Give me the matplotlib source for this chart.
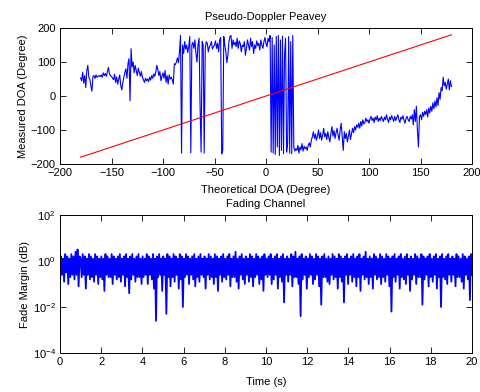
import numpy as np
import matplotlib
matplotlib.use("Agg")
import matplotlib.pyplot as plt

plt.rcParams['font.family'] = ['Liberation Sans', 'DejaVu Sans']
plt.rcParams['font.size'] = 8
plt.rcParams['mathtext.fontset'] = 'custom'
plt.rcParams['mathtext.rm'] = 'Liberation Sans'
plt.rcParams['mathtext.it'] = 'Liberation Sans'

# ---------------- Data: Pseudo-Doppler DOA ----------------
theoretical_doa = list(range(-180, 181))
measured_doa = [
    53, 45, 70, 38, 60, 25, 75, 90, 55, 48,
    30, 14, 58, 60, 52, 62, 55, 58, 60, 57,
    62, 55, 68, 60, 66, 58, 72, 84, 65, 60,
    58, 52, 48, 64, 40, 56, 35, 50, 62, 30,
    18, 40, 55, 70, 80, 52, 95, 110, -14, 139,
    85, 100, 68, 90, 75, 60, 82, 70, 58, 72,
    55, 48, 40, 52, 45, 50, 42, 55, 47, 60,
    52, 65, 58, 70, 90, 78, 60, 72, 45, 58,
    68, 52, 75, 40, 60, 35, 62, 50, 55, 48,
    35, 95, 92, 100, 112, 98, 130, 178, -168, 150,
    125, 160, 138, 150, 128, 145, 175, -167, 150, 158,
    140, 165, 125, 100, 150, 170, -30, -165, 160, 150,
    -168, 140, 160, 155, 130, 145, 150, 160, 138, 145,
    150, 162, 140, 155, 130, 165, 172, -170, -160, 175,
    150, 130, 98, 120, 160, 175, 178, 140, 165, 150,
    158, 145, 170, 140, 162, 155, 130, 150, 145, 160,
    120, 140, 165, 150, 135, 170, 145, 160, 125, 150,
    140, 162, 148, 155, 135, 165, 150, 140, 160, 172,
    155, 145, 170, 160, 178, -165, 172, -168, 150, -172,
    175, -150, 178, -175, 165, -160, 176, -170, 120, 170,
    -165, -140, 175, -168, 160, -170, 178, -150, -162, -155,
    -160, -145, -168, -150, -158, -140, -162, -148, -155, -150,
    -160, -145, -138, -150, -130, -120, -105, -125, -112, -130,
    -118, -100, -125, -108, -130, -115, -95, -120, -110, -128,
    -105, -122, -135, -110, -90, -118, -102, -125, -108, -95,
    -115, -130, -100, -80, -120, -160, -105, -125, -110, -135,
    -118, -100, -128, -112, -95, -108, -90, -100, -85, -92,
    -80, -95, -75, -88, -70, -82, -78, -65, -75, -70,
    -80, -68, -60, -72, -65, -78, -62, -70, -58, -75,
    -65, -72, -60, -68, -75, -62, -70, -55, -68, -78,
    -62, -70, -58, -66, -75, -60, -72, -64, -55, -70,
    -78, -62, -68, -58, -72, -80, -65, -60, -70, -75,
    -60, -68, -55, -85, -40, -75, -30, -100, -150, -60,
    -55, -70, -48, -60, -45, -55, -40, -62, -35, -50,
    -30, -45, -20, -38, -15, -32, -5, -28, 10, -10,
    25, 15, 55, 30, 40, 20, 35, 50, 18, 45, 28,
]
ideal_doa = theoretical_doa

# ---------------- Data: Fading channel (log10 of fade margin) ----------------
fade_log10 = [
    -1.1, 0.2, -0.6, 0.1, -0.9, 0.3, -0.5, 0.2, -1.0, 0.1, -0.7, 0.3, -0.6, 0.2, -0.8, 0.4, -0.6, 0.5, -1.1, 0.2,
    0.1, -0.7, 0.3, -0.6, 0.2, -1.2, 0.1, -0.6, 0.3, -0.8, 0.2, -0.7, 0.1, -0.9, 0.3, -0.6, 0.2, -1.0, 0.1, -0.7,
    0.2, -0.8, 0.1, -1.3, 0.3, -0.6, 0.2, -0.7, 0.1, -0.7, 0.3, -1.0, 0.2, -0.6, 0.1, -0.8, 0.2, -0.7, 0.3, -0.9,
    0.1, -0.6, 0.2, -1.1, 0.3, -0.7, 0.1, -1.4, 0.2, -0.8, 0.3, -0.6, 0.1, -0.9, 0.2, -0.7, 0.3, -0.7, 0.1, -1.0,
    0.2, -0.7, 0.1, -0.6, 0.3, -1.0, 0.2, -0.6, 0.1, -0.8, 0.3, -1.2, 0.1, -2.6, 0.2, -0.7, 0.3, -0.6, 0.1, -1.3,
    0.2, -0.6, 0.1, -2.3, 0.3, -0.7, 0.2, -1.1, 0.1, -0.7, 0.3, -0.9, 0.2, -0.6, 0.1, -1.2, 0.3, -0.8, 0.2, -2.0,
    0.1, -0.7, 0.3, -0.6, 0.2, -1.0, 0.1, -0.6, 0.2, -0.8, 0.3, -1.1, 0.1, -0.7, 0.2, -0.9, 0.3, -0.6, 0.1, -0.7,
    0.2, -1.2, 0.1, -0.6, 0.3, -0.8, 0.2, -0.7, 0.1, -1.0, 0.3, -0.7, 0.2, -1.3, 0.1, -0.6, 0.2, -0.9, 0.3, -0.7,
    0.1, -0.8, 0.2, -0.6, 0.3, -1.1, 0.1, -0.7, 0.2, -0.7, 0.4, -0.9, 0.1, -1.2, 0.2, -0.6, 0.3, -0.8, 0.1, -1.0,
    0.2, -0.6, 0.1, -0.9, 0.3, -0.7, 0.2, -1.1, 0.1, -0.7, 0.3, -0.6, 0.2, -1.0, 0.1, -0.8, 0.2, -1.3, 0.3, -0.6,
    0.1, -0.7, 0.2, -0.6, 0.3, -1.0, 0.1, -0.8, 0.2, -0.6, 0.3, -1.2, 0.1, -0.7, 0.2, -0.9, 0.3, -1.8, 0.1, -0.6,
    0.2, -0.9, 0.1, -0.6, 0.3, -1.1, 0.2, -0.7, 0.4, -0.7, 0.1, -1.0, 0.2, -2.4, 0.3, -0.8, 0.1, -0.6, 0.2, -1.2,
    0.1, -0.7, 0.3, -0.6, 0.2, -1.0, 0.1, -0.8, 0.3, -0.6, 0.2, -1.1, 0.1, -1.9, 0.2, -0.7, 0.3, -0.7, 0.1, -0.9,
    0.2, -1.0, 0.1, -0.6, 0.3, -0.8, 0.2, -0.7, 0.1, -1.2, 0.3, -0.7, 0.2, -0.9, 0.1, -1.8, 0.2, -0.6, 0.3, -1.0,
    0.1, -0.6, 0.2, -0.9, 0.3, -0.7, 0.1, -1.1, 0.2, -0.7, 0.3, -1.3, 0.1, -0.6, 0.2, -0.8, 0.4, -0.7, 0.1, -1.0,
    0.2, -0.7, 0.1, -1.2, 0.3, -0.6, 0.2, -0.8, 0.1, -0.7, 0.3, -1.0, 0.2, -0.7, 0.1, -0.9, 0.3, -0.6, 0.2, -1.1,
    0.1, -2.2, 0.2, -0.7, 0.3, -0.9, 0.1, -0.6, 0.2, -1.2, 0.3, -0.7, 0.1, -0.8, 0.2, -1.0, 0.3, -0.6, 0.1, -1.3,
    0.2, -0.8, 0.1, -0.6, 0.3, -1.0, 0.2, -0.7, 0.1, -0.7, 0.3, -1.9, 0.2, -0.8, 0.1, -0.6, 0.2, -1.1, 0.3, -0.7,
    0.1, -0.9, 0.2, -0.6, 0.3, -1.2, 0.1, -0.7, 0.2, -2.0, 0.3, -0.7, 0.1, -0.8, 0.2, -1.0, 0.3, -0.6, 0.1, -0.9,
    0.2, -0.6, 0.1, -1.1, 0.3, -0.7, 0.2, -0.7, 0.1, -0.9, 0.3, -1.2, 0.2, -0.6, 0.1, -0.8, 0.2, -1.7, 0.3, -0.6,
]
time_start, time_end = 0, 20

doa_xticks = [-200, -150, -100, -50, 0, 50, 100, 150, 200]
doa_yticks = [-200, -100, 0, 100, 200]
time_xticks = [0, 2, 4, 6, 8, 10, 12, 14, 16, 18, 20]
fade_yticks = [1e-4, 1e-2, 1e0, 1e2]

# ---------------- Figure ----------------
W, H = 480, 392
fig = plt.figure(figsize=(W / 100, H / 100), dpi=100)

def style(ax):
    ax.tick_params(direction='in', top=True, right=True, length=4, width=0.6,
                   colors='black', labelsize=8, pad=3)
    for s in ax.spines.values():
        s.set_linewidth(0.7)
        s.set_color('black')

ax1 = fig.add_axes([60 / W, 1 - 164 / H, 412 / W, 136 / H])
ax1.plot(theoretical_doa, measured_doa, color='#0000ff', lw=0.8)
ax1.plot(theoretical_doa, ideal_doa, color='#ff0000', lw=0.8)
ax1.set_xlim(-200, 200)
ax1.set_ylim(-200, 200)
ax1.set_xticks(doa_xticks)
ax1.set_yticks(doa_yticks)
ax1.set_title('Pseudo-Doppler Peavey', fontsize=8, pad=6)
ax1.set_xlabel('Theoretical DOA (Degree)', fontsize=8, labelpad=5)
ax1.set_ylabel('Measured DOA (Degree)', fontsize=8, labelpad=2)
style(ax1)

t = np.linspace(time_start, time_end, len(fade_log10))
fade = np.power(10.0, fade_log10)
ax2 = fig.add_axes([60 / W, 1 - 353 / H, 412 / W, 138 / H])
ax2.semilogy(t, fade, color='#0000ff', lw=1.3)
ax2.set_xlim(0, 20)
ax2.set_ylim(1e-4, 1e2)
ax2.set_xticks(time_xticks)
ax2.set_yticks(fade_yticks)
ax2.minorticks_off()
ax2.set_title('Fading Channel', fontsize=8, pad=6)
ax2.set_xlabel('Time (s)', fontsize=8, labelpad=7)
ax2.set_ylabel('Fade Margin (dB)', fontsize=8, labelpad=2)
style(ax2)

fig.savefig('out.png', dpi=100)
